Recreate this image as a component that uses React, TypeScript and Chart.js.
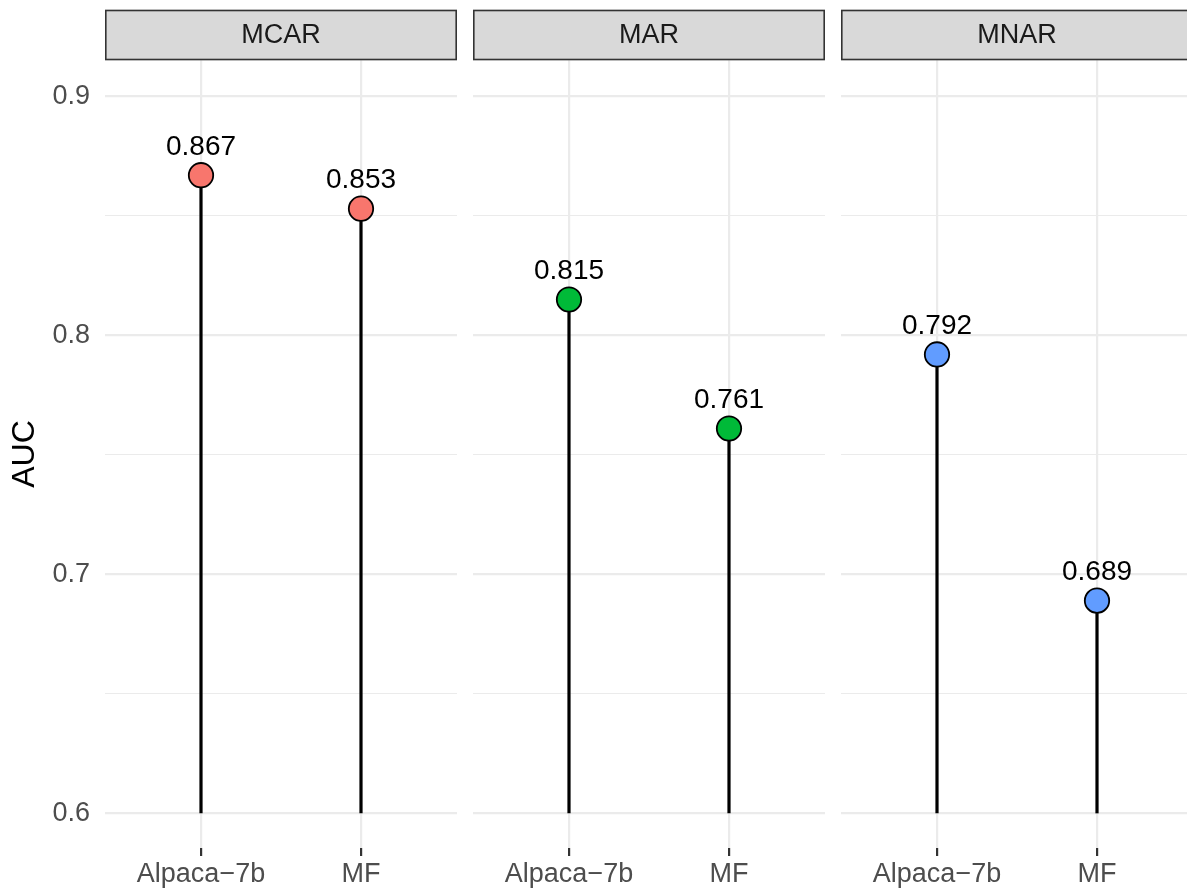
import React, { useEffect, useRef } from "react";
import { Chart, registerables } from "chart.js";

Chart.register(...registerables);

// ---- data ----
const panelNames = ["MCAR", "MAR", "MNAR"];
const methods = ["Alpaca\u22127b", "MF"];
const mcarAUC = [0.867, 0.853];
const marAUC = [0.815, 0.761];
const mnarAUC = [0.792, 0.689];
const panelValues = [mcarAUC, marAUC, mnarAUC];
const panelColors = ["#F8766D", "#00BA38", "#619CFF"];
const yMajorTicks = [0.6, 0.7, 0.8, 0.9];
const yMinorTicks = [0.65, 0.75, 0.85];
const baseline = 0.6;
const yMin = 0.5855;
const yMax = 0.9152;

const FONT = "'Liberation Sans', Arial, Helvetica, sans-serif";

const isMajor = (v: number) => yMajorTicks.some((t) => Math.abs(t - v) < 1e-6);

const stripPlugin = {
  id: "strip",
  afterDraw(chart: any, _args: any, opts: any) {
    const { ctx, chartArea } = chart;
    const top = 9.7;
    const bottom = 60.3;
    ctx.save();
    ctx.fillStyle = "#D9D9D9";
    ctx.fillRect(chartArea.left, top, chartArea.right - chartArea.left, bottom - top);
    ctx.strokeStyle = "#333333";
    ctx.lineWidth = 1.6;
    ctx.strokeRect(chartArea.left + 0.8, top + 0.8, chartArea.right - chartArea.left - 1.6, bottom - top - 1.6);
    ctx.fillStyle = "#1A1A1A";
    ctx.font = `27px ${FONT}`;
    ctx.textAlign = "center";
    ctx.textBaseline = "middle";
    ctx.fillText(opts.label, (chartArea.left + chartArea.right) / 2, (top + bottom) / 2 + 1);
    ctx.restore();
  },
};

const valueLabelPlugin = {
  id: "valueLabels",
  afterDatasetsDraw(chart: any) {
    const meta = chart.getDatasetMeta(0);
    const ds = chart.data.datasets[0];
    const { ctx } = chart;
    ctx.save();
    ctx.fillStyle = "#000000";
    ctx.font = `28px ${FONT}`;
    ctx.textAlign = "center";
    ctx.textBaseline = "middle";
    meta.data.forEach((pt: any, i: number) => {
      const v = ds.data[i].y as number;
      ctx.fillText(v.toFixed(3), pt.x, pt.y - 28);
    });
    ctx.restore();
  },
};

function Panel({ index, left, width }: { index: number; left: number; width: number }) {
  const ref = useRef<HTMLCanvasElement>(null);
  useEffect(() => {
    if (!ref.current) return;
    const values = panelValues[index];
    const color = panelColors[index];
    const first = index === 0;
    const stems = values.map((v, i) => ({
      type: "line" as const,
      data: [
        { x: i + 1, y: baseline },
        { x: i + 1, y: v },
      ],
      borderColor: "#000000",
      borderWidth: 3.2,
      pointRadius: 0,
      order: 2,
    }));
    const chart = new Chart(ref.current, {
      type: "scatter",
      data: {
        datasets: [
          {
            data: values.map((v, i) => ({ x: i + 1, y: v })),
            backgroundColor: color,
            borderColor: "#000000",
            borderWidth: 1.8,
            pointRadius: 12.2,
            order: 0,
          } as any,
          ...stems,
        ],
      },
      options: {
        responsive: false,
        animation: false,
        layout: { autoPadding: false, padding: { top: 60, left: 0, right: 0, bottom: 0 } },
        plugins: {
          legend: { display: false },
          tooltip: { enabled: false },
          strip: { label: panelNames[index] },
        } as any,
        scales: {
          x: {
            type: "linear",
            min: 0.4,
            max: 2.6,
            afterBuildTicks: (scale: any) => {
              scale.ticks = methods.map((_, i) => ({ value: i + 1 }));
            },
            afterFit: (scale: any) => {
              scale.height = 42;
              scale.paddingLeft = 0;
              scale.paddingRight = 0;
            },
            border: { display: false },
            grid: {
              color: "#EBEBEB",
              lineWidth: 2.2,
              tickColor: "#333333",
              tickLength: 8,
              tickWidth: 2.2,
            },
            ticks: {
              autoSkip: false,
              maxRotation: 0,
              padding: 2,
              color: "#4D4D4D",
              font: { family: FONT, size: 27 },
              callback: (v: any) => methods[Math.round(Number(v)) - 1] ?? "",
            },
          },
          y: {
            type: "linear",
            min: yMin,
            max: yMax,
            afterBuildTicks: (scale: any) => {
              scale.ticks = [...yMajorTicks, ...yMinorTicks]
                .sort((a, b) => a - b)
                .map((v) => ({ value: v }));
            },
            afterFit: (scale: any) => {
              scale.width = first ? 105 : 0;
            },
            border: { display: false },
            grid: {
              color: "#EBEBEB",
              drawTicks: false,
              lineWidth: (ctx: any) => (ctx.tick && isMajor(ctx.tick.value) ? 2.2 : 1.1),
            },
            title: {
              display: first,
              text: "AUC",
              color: "#000000",
              font: { family: FONT, size: 32 },
              padding: { top: 6, bottom: 0 },
            },
            ticks: {
              display: first,
              autoSkip: false,
              padding: 15,
              color: "#4D4D4D",
              font: { family: FONT, size: 27 },
              callback: (v: any) => (isMajor(Number(v)) ? String(Number(v).toFixed(1)) : ""),
            },
          },
        },
      },
      plugins: [stripPlugin, valueLabelPlugin],
    });
    return () => chart.destroy();
  }, [index]);
  return (
    <div style={{ position: "absolute", left, top: 0, width, height: 890 }}>
      <canvas ref={ref} width={width} height={890} style={{ display: "block" }} />
    </div>
  );
}

export default function App() {
  return (
    <div
      style={{
        position: "absolute",
        left: 0,
        top: 0,
        width: 1187,
        height: 890,
        overflow: "hidden",
        background: "#FFFFFF",
      }}
    >
      <Panel index={0} left={0} width={457} />
      <Panel index={1} left={473} width={352} />
      <Panel index={2} left={841} width={352} />
    </div>
  );
}
